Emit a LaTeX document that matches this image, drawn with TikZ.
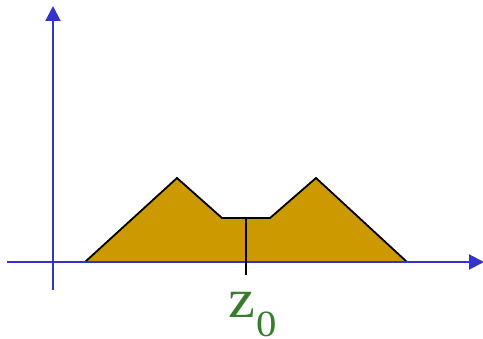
\documentclass[tikz,border=0pt]{standalone}
\usepackage{fontspec}
\setmainfont{Liberation Serif}
\usepackage{xcolor}
\usetikzlibrary{arrows.meta}
\definecolor{axisblue}{RGB}{51,51,204}
\definecolor{mygold}{RGB}{204,153,0}
\definecolor{mygreen}{RGB}{55,125,45}
\tikzset{
  axis/.style={axisblue, line width=2pt, -{Triangle[length=15pt, width=15pt]}},
  profile/.style={fill=mygold, draw=black, line width=1.8pt, line join=miter},
  tick/.style={black, line width=1.6pt}
}

\begin{document}
\begin{tikzpicture}[x=1pt, y=-1pt]
  \useasboundingbox (0,0) rectangle (483,339);

  % Profile
  \draw[profile] (85,262) -- (177,178) -- (222,218) -- (270,218) -- (316,178) -- (407,262) -- cycle;

  % Axes
  \draw[axis] (7,262) -- (484,262);
  \draw[axis] (53,290) -- (53,6);

  % Centre mark
  \draw[tick] (246,218) -- (246,275);
  \node[anchor=base west, inner sep=0pt, text=mygreen] (zlabel) at (228,318)
    {\scalebox{1.1}[1]{\fontsize{55}{55}\selectfont z\kern1pt\smash{\raisebox{-19pt}{\fontsize{37}{37}\selectfont 0}}}};
\end{tikzpicture}
\end{document}
